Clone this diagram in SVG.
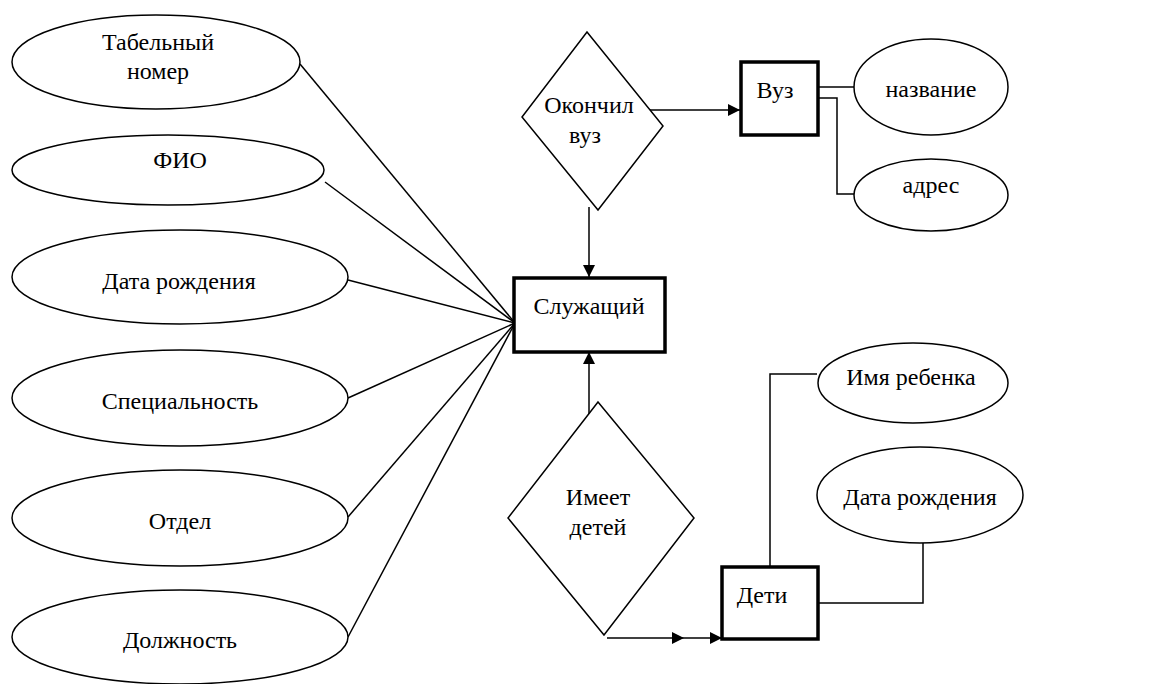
<svg xmlns="http://www.w3.org/2000/svg" width="1158" height="684" viewBox="0 0 1158 684">
<style>
.e{fill:#fff;stroke:#000;stroke-width:1.5}
.d{fill:#fff;stroke:#000;stroke-width:1.5}
.b{fill:#fff;stroke:#000;stroke-width:3.5}
.c{fill:none;stroke:#000;stroke-width:1.5}
</style>
<defs>
<marker id="ah" markerWidth="12" markerHeight="12" viewBox="0 0 12 12" refX="12" refY="6" orient="auto" markerUnits="userSpaceOnUse">
<path d="M0,0 L12,6 L0,12 Z" fill="#000"/>
</marker>
</defs>
<rect width="1158" height="684" fill="#fff"/>
<g id="connectors">
<line class="c" x1="300" y1="64" x2="515" y2="323"/>
<line class="c" x1="325" y1="182" x2="515" y2="323"/>
<line class="c" x1="348" y1="280" x2="515" y2="323"/>
<line class="c" x1="348" y1="398" x2="515" y2="323"/>
<line class="c" x1="348" y1="517" x2="515" y2="323"/>
<line class="c" x1="348" y1="637" x2="515" y2="323"/>
<line class="c" x1="647" y1="110" x2="740" y2="110" marker-end="url(#ah)"/>
<line class="c" x1="589" y1="207" x2="589" y2="277" marker-end="url(#ah)"/>
<polyline class="c" points="818,87 855,87"/>
<polyline class="c" points="818,98 837,98 837,194 856,194"/>
<line class="c" x1="589" y1="423" x2="589" y2="352" marker-end="url(#ah)"/>
<line class="c" x1="607" y1="638" x2="684" y2="638" marker-end="url(#ah)"/>
<line class="c" x1="684" y1="638" x2="722" y2="638" marker-end="url(#ah)"/>
<polyline class="c" points="770,567 770,374 817,374"/>
<polyline class="c" points="818,603 923,603 923,543"/>
</g>
<g font-family="Liberation Serif, Times New Roman, serif" font-size="24" text-anchor="middle" fill="#000">
<g id="attr-tabnum"><ellipse class="e" cx="156" cy="62" rx="144" ry="47"/><text x="158" y="50">Табельный</text><text x="158" y="79">номер</text></g>
<g id="attr-fio"><ellipse class="e" cx="168" cy="170" rx="156" ry="35"/><text x="180" y="168">ФИО</text></g>
<g id="attr-dob"><ellipse class="e" cx="180" cy="277" rx="168" ry="47"/><text x="179" y="289">Дата рождения</text></g>
<g id="attr-spec"><ellipse class="e" cx="180" cy="398" rx="168" ry="48"/><text x="180" y="409">Специальность</text></g>
<g id="attr-dept"><ellipse class="e" cx="180" cy="518" rx="168" ry="48"/><text x="180" y="529">Отдел</text></g>
<g id="attr-pos"><ellipse class="e" cx="180" cy="637" rx="168" ry="47"/><text x="180" y="648">Должность</text></g>
<g id="employee"><rect class="b" x="514" y="278" width="151" height="74"/><text x="589" y="314">Служащий</text></g>
<g id="rel-graduated"><polygon class="d" points="587,32 663,126 598,210 522,117"/><text x="589" y="113">Окончил</text><text x="585" y="143">вуз</text></g>
<g id="university"><rect class="b" x="741" y="62" width="77" height="73"/><text x="775" y="98">Вуз</text></g>
<g id="attr-name"><ellipse class="e" cx="931" cy="87" rx="77" ry="48"/><text x="931" y="97">название</text></g>
<g id="attr-address"><ellipse class="e" cx="931" cy="195" rx="77" ry="36"/><text x="931" y="193">адрес</text></g>
<g id="rel-children"><polygon class="d" points="598,402 694,518 604,635 508,518"/><text x="598" y="505">Имеет</text><text x="598" y="535">детей</text></g>
<g id="children"><rect class="b" x="722" y="567" width="96" height="72"/><text x="762" y="603">Дети</text></g>
<g id="attr-childname"><ellipse class="e" cx="913" cy="383" rx="95" ry="40"/><text x="911" y="385">Имя ребенка</text></g>
<g id="attr-childdob"><ellipse class="e" cx="920" cy="495" rx="103" ry="48"/><text x="920" y="505">Дата рождения</text></g>
</g>
</svg>
